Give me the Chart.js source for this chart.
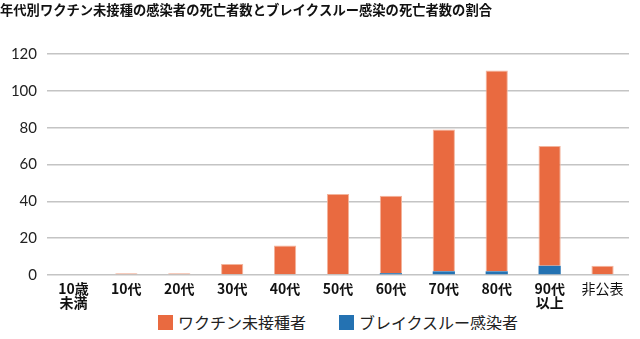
<!DOCTYPE html>
<html>
<head>
<meta charset="utf-8">
<script src="https://cdn.jsdelivr.net/npm/chart.js@4"></script>
<style>
  html, body { margin: 0; padding: 0; background: #fff; overflow: hidden; }
  #wrap { width: 640px; height: 320px; position: relative; }
  #legend {
    width: 640px; box-sizing: border-box; padding: 0 11px 0 47px; margin-top: -6px;
    display: flex; justify-content: center; gap: 33px;
    font-family: 'Noto Sans CJK JP', 'Noto Sans', sans-serif; font-size: 16px; color: #222;
  }
  #legend .item { display: flex; align-items: center; height: 16px; line-height: 16px; }
  #legend .box { width: 15px; height: 15px; margin-right: 5px; }
</style>
</head>
<body>
<div id="wrap"><canvas id="deathChart"></canvas></div>
<div id="legend"></div>
<script>
// 年代別 死亡者数
const ageGroups = [['10歳', '未満'], '10代', '20代', '30代', '40代', '50代', '60代', '70代', '80代', ['90代', '以上'], '非公表'];
const unvaccinated = [0, 1, 1, 6, 16, 44, 42, 77, 109, 65, 5];
const breakthrough = [0, 0, 0, 0, 0, 0, 1, 2, 2, 5, 0];
const yTicks = [0, 20, 40, 60, 80, 100, 120];

const cjkFont = "'Noto Sans CJK JP', 'Noto Sans', sans-serif";

const chart = new Chart(document.getElementById('deathChart').getContext('2d'), {
    type: 'bar',
    data: {
        labels: ageGroups,
        datasets: [{
            // 下段: ブレイクスルー感染
            label: 'ブレイクスルー感染者',
            data: breakthrough,
            backgroundColor: '#2472b2',
            borderWidth: 0,
            barPercentage: 0.42,
            categoryPercentage: 1
        }, {
            label: 'ワクチン未接種者',
            data: unvaccinated,
            backgroundColor: '#e96a40',
            borderColor: '#f3b49c',
            borderWidth: { top: 1, left: 1, right: 1, bottom: 0 },
            borderSkipped: false,
            barPercentage: 0.42,
            categoryPercentage: 1
        }]
    },
    options: {
        responsive: true,
        maintainAspectRatio: false,
        animation: false,
        layout: { padding: { left: 0, right: 11, top: 0, bottom: 3 } },
        plugins: {
            title: {
                display: true,
                text: '年代別ワクチン未接種の感染者の死亡者数とブレイクスルー感染の死亡者数の割合',
                align: 'start',
                color: '#111',
                font: { family: cjkFont, size: 13.3, weight: 'bold', lineHeight: 1 },
                padding: { top: 3, bottom: 37.7 }
            },
            legend: { display: false },
            tooltip: { enabled: false }
        },
        scales: {
            x: {
                stacked: true,
                grid: { display: false, drawTicks: false },
                border: { display: false },
                ticks: {
                    color: '#111',
                    maxRotation: 0,
                    autoSkip: false,
                    padding: 7,
                    font: ctx => ({
                        family: cjkFont,
                        size: 14,
                        weight: ctx.index === ageGroups.length - 1 ? 'normal' : 'bold',
                        lineHeight: 1
                    })
                }
            },
            y: {
                stacked: true,
                min: 0,
                max: 120,
                afterBuildTicks: axis => { axis.ticks = yTicks.map(v => ({ value: v })); },
                afterFit: axis => { axis.width = 47; },
                grid: { color: '#c4c4c4', lineWidth: 1.5, drawTicks: false },
                border: { display: false },
                ticks: {
                    color: '#222',
                    padding: 10,
                    font: { family: 'Lato, sans-serif', size: 15 }
                }
            }
        }
    }
});

// 凡例 (未接種者を先に)
const legendEl = document.getElementById('legend');
chart.data.datasets.slice().reverse().forEach(ds => {
    const item = document.createElement('div');
    item.className = 'item';
    const box = document.createElement('span');
    box.className = 'box';
    box.style.background = ds.backgroundColor;
    const text = document.createElement('span');
    text.textContent = ds.label;
    item.appendChild(box);
    item.appendChild(text);
    legendEl.appendChild(item);
});
</script>
</body>
</html>
